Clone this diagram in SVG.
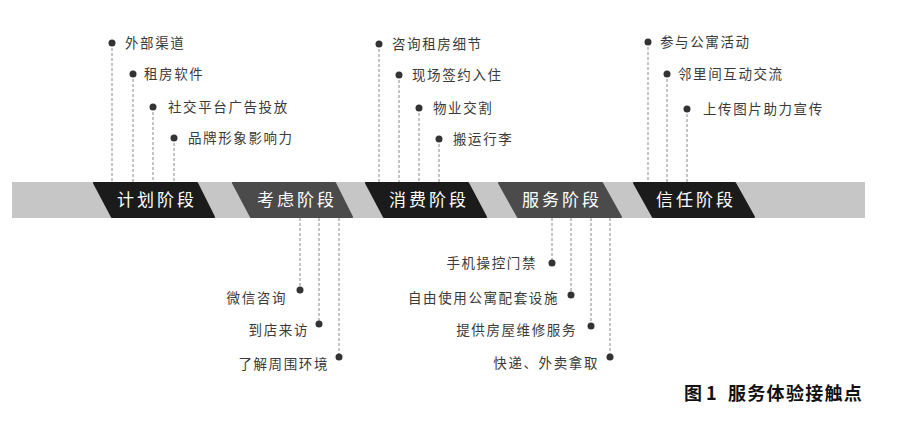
<svg xmlns="http://www.w3.org/2000/svg" width="900" height="443" viewBox="0 0 900 443">
<style>
.band{fill:#c6c6c6}
.dk{fill:#1b1b1b;stroke:#1b1b1b;stroke-width:2;stroke-linejoin:round}
.gy{fill:#4b4b4b;stroke:#4b4b4b;stroke-width:2;stroke-linejoin:round}
.st{font-family:"Noto Sans CJK SC",sans-serif;font-size:17px;fill:#fff;letter-spacing:3px;text-anchor:middle}
.lb{font-family:"Noto Sans CJK SC",sans-serif;font-size:13.5px;fill:#3a3a3a;letter-spacing:1.6px}
.lr{text-anchor:end}
.ln{stroke:#8a8a8a;stroke-width:1;stroke-dasharray:3 2;fill:none}
.dot{fill:#333}
.cap{font-family:"Noto Sans CJK SC",sans-serif;font-size:18px;font-weight:bold;fill:#111}
</style>
<rect class="band" x="12" y="182" width="853" height="36"/>
<g id="connectors">
<line class="ln" x1="112" y1="43" x2="112" y2="182"/>
<line class="ln" x1="133" y1="74" x2="133" y2="182"/>
<line class="ln" x1="153" y1="107" x2="153" y2="182"/>
<line class="ln" x1="174" y1="138" x2="174" y2="182"/>
<line class="ln" x1="379" y1="44" x2="379" y2="182"/>
<line class="ln" x1="399" y1="75" x2="399" y2="182"/>
<line class="ln" x1="419" y1="108" x2="419" y2="182"/>
<line class="ln" x1="439" y1="139" x2="439" y2="182"/>
<line class="ln" x1="648" y1="42" x2="648" y2="182"/>
<line class="ln" x1="667" y1="74" x2="667" y2="182"/>
<line class="ln" x1="687" y1="109" x2="687" y2="182"/>
<line class="ln" x1="300" y1="218" x2="300" y2="290"/>
<line class="ln" x1="319" y1="218" x2="319" y2="324"/>
<line class="ln" x1="339" y1="218" x2="339" y2="357"/>
<line class="ln" x1="552" y1="218" x2="552" y2="263"/>
<line class="ln" x1="571" y1="218" x2="571" y2="295"/>
<line class="ln" x1="591" y1="218" x2="591" y2="326"/>
<line class="ln" x1="610" y1="218" x2="610" y2="357"/>
</g>
<g id="stage-plan">
<polygon class="dk" points="94,183 197,183 214,217 112,217"/>
<text class="st" x="157" y="206">计划阶段</text>
</g>
<g id="stage-consider">
<polygon class="gy" points="233,183 335,183 352,217 251,217"/>
<text class="st" x="297" y="206">考虑阶段</text>
</g>
<g id="stage-consume">
<polygon class="dk" points="366,183 468,183 486,217 384,217"/>
<text class="st" x="429" y="206">消费阶段</text>
</g>
<g id="stage-service">
<polygon class="gy" points="499,183 602,183 621,217 518,217"/>
<text class="st" x="562" y="206">服务阶段</text>
</g>
<g id="stage-trust">
<polygon class="dk" points="634,183 735,183 754,217 653,217"/>
<text class="st" x="696" y="206">信任阶段</text>
</g>
<g id="plan-items">
<circle class="dot" cx="112" cy="43" r="3.5"/><text class="lb" x="125" y="48">外部渠道</text>
<circle class="dot" cx="133" cy="74" r="3.5"/><text class="lb" x="144" y="79">租房软件</text>
<circle class="dot" cx="153" cy="107" r="3.5"/><text class="lb" x="168" y="112">社交平台广告投放</text>
<circle class="dot" cx="174" cy="138" r="3.5"/><text class="lb" x="188" y="143">品牌形象影响力</text>
</g>
<g id="consume-items">
<circle class="dot" cx="379" cy="44" r="3.5"/><text class="lb" x="392" y="49">咨询租房细节</text>
<circle class="dot" cx="399" cy="75" r="3.5"/><text class="lb" x="412" y="80">现场签约入住</text>
<circle class="dot" cx="419" cy="108" r="3.5"/><text class="lb" x="433" y="113">物业交割</text>
<circle class="dot" cx="439" cy="139" r="3.5"/><text class="lb" x="453" y="144">搬运行李</text>
</g>
<g id="trust-items">
<circle class="dot" cx="648" cy="42" r="3.5"/><text class="lb" x="660" y="47">参与公寓活动</text>
<circle class="dot" cx="667" cy="74" r="3.5"/><text class="lb" x="678" y="79">邻里间互动交流</text>
<circle class="dot" cx="687" cy="109" r="3.5"/><text class="lb" x="703" y="114">上传图片助力宣传</text>
</g>
<g id="consider-items">
<circle class="dot" cx="300" cy="290" r="3.5"/><text class="lb lr" x="287" y="303">微信咨询</text>
<circle class="dot" cx="319" cy="324" r="3.5"/><text class="lb lr" x="309" y="335">到店来访</text>
<circle class="dot" cx="339" cy="357" r="3.5"/><text class="lb lr" x="329" y="369">了解周围环境</text>
</g>
<g id="service-items">
<circle class="dot" cx="552" cy="263" r="3.5"/><text class="lb lr" x="537" y="268">手机操控门禁</text>
<circle class="dot" cx="571" cy="295" r="3.5"/><text class="lb lr" x="559" y="303">自由使用公寓配套设施</text>
<circle class="dot" cx="591" cy="326" r="3.5"/><text class="lb lr" x="577" y="335">提供房屋维修服务</text>
<circle class="dot" cx="610" cy="357" r="3.5"/><text class="lb lr" x="599" y="368">快递、外卖拿取</text>
</g>
<g id="caption">
<text class="cap" x="684" y="400">图 1</text>
<text class="cap" x="728" y="400" letter-spacing="1.3">服务体验接触点</text>
</g>
</svg>
